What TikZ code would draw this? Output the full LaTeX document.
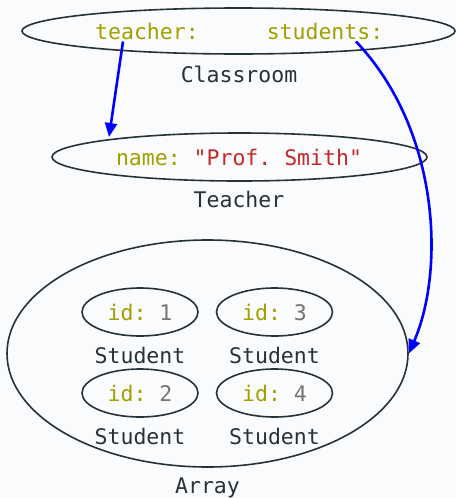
\documentclass[tikz,border=0pt]{standalone}
\usepackage{fontspec}
\setmonofont{DejaVu Sans Mono}
\usetikzlibrary{shapes.geometric,arrows.meta}
\definecolor{bgcol}{HTML}{FAFBFC}
\definecolor{ink}{HTML}{263238}
\definecolor{keycol}{HTML}{A0A000}
\definecolor{strcol}{HTML}{C62828}
\definecolor{numcol}{HTML}{757575}
\definecolor{refcol}{HTML}{0000FF}
\begin{document}
\begin{tikzpicture}[x=1pt,y=-1pt,
  every node/.style={font=\ttfamily\fontsize{21.5}{24}\selectfont, inner sep=0pt},
  obj/.style={draw=ink, line width=1.6pt, ellipse, minimum width=#1},
  lbl/.style={text=ink, anchor=base},
  key/.style={text=keycol, anchor=base},
  ref/.style={draw=refcol, line width=2.6pt, -{Triangle[length=14pt,width=12pt]}}]
\fill[bgcol] (0,0) rectangle (456,498);
\useasboundingbox (0,0) rectangle (456,498);

% Classroom object
\node[obj=433pt, minimum height=46pt] (classroom) at (238.5,31) {};
\node[key] (ctea) at (147,39) {teacher:};
\node[key] (cstu) at (325,39) {students:};
\node[lbl] (lclass) at (239,82) {Classroom};
\coordinate (tport) at (123,41.5);
\coordinate (sport) at (356,41.5);

% Teacher object
\node[obj=375pt, minimum height=48pt] (teacher) at (239.5,157) {};
\node[anchor=base] (tname) at (239,165) {\textcolor{keycol}{name:} \textcolor{strcol}{"Prof. Smith"}};
\node[lbl] (lteach) at (239,207) {Teacher};

% Array of students
\node[obj=401pt, minimum height=227pt] (array) at (207.5,353.5) {};
\node[lbl] (larray) at (207.5,493) {Array};

\foreach \n/\cx/\cy in {1/140/312, 2/140/393, 3/274.5/312, 4/274.5/393}{
  \node[obj=116pt, minimum height=48pt] (s\n) at (\cx,\cy) {};
  \node[anchor=base] (sid\n) at (\cx,\cy+8.5) {\textcolor{keycol}{id:} \textcolor{numcol}{\n}};
  \node[lbl] (ls\n) at (\cx,\cy+51.5) {Student};
}

% References from the record fields to the objects they point to
\draw[ref] (tport) -- ([shift={(-130.5,-20)}]teacher.center);
\draw[ref] (sport) .. controls (440,130) and (445,270) .. (array.east);
\end{tikzpicture}
\end{document}
